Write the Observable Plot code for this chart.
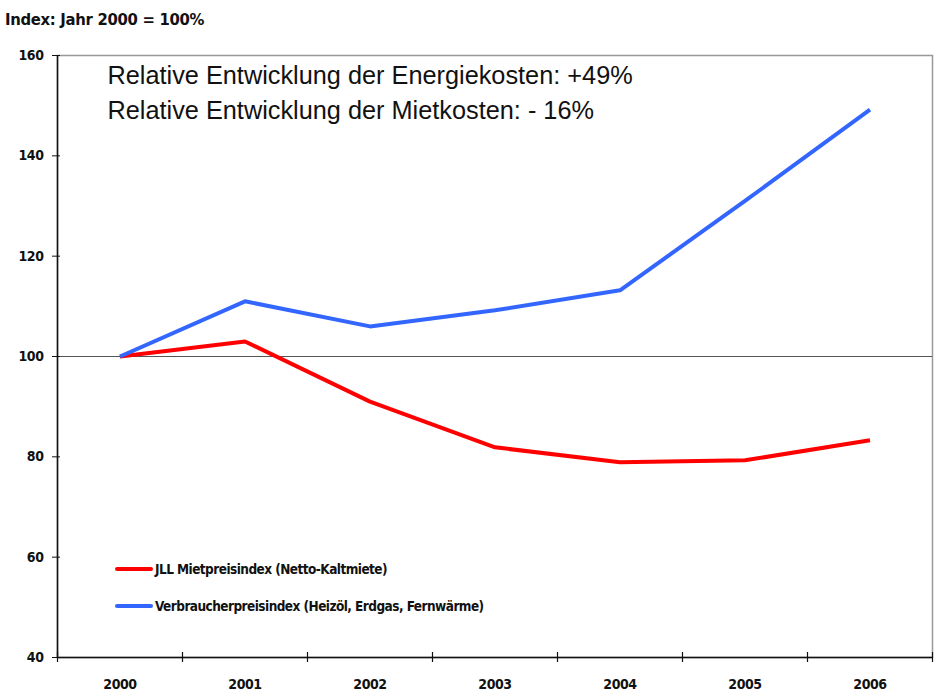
<!DOCTYPE html>
<html>
<head>
<meta charset="utf-8">
<script src="https://cdn.jsdelivr.net/npm/d3@7"></script>
<script src="https://cdn.jsdelivr.net/npm/@observablehq/plot@0.6"></script>
<style>
  html, body { margin: 0; padding: 0; background: #fff; }
  #wrap { position: relative; width: 935px; height: 692px; font-family: "Liberation Sans Narrow", "DejaVu Sans Condensed", sans-serif; color: #111; font-weight: bold; }
  #subtitle { position: absolute; left: 5px; top: 10px; font-size: 16.5px; line-height: 20px; letter-spacing: -0.3px; }
  #chart { position: absolute; left: 0; top: 40px; }
  .leg { position: absolute; left: 115px; font-size: 13.5px; line-height: 16px; height: 16px; display: flex; align-items: center; letter-spacing: -0.55px; }
  .leg .sw { width: 38px; height: 4px; border-radius: 2px; margin-right: 2px; }
</style>
</head>
<body>
<div id="wrap">
  <div id="subtitle">Index: Jahr 2000 = 100%</div>
  <div id="chart"></div>
  <div id="legend"></div>
</div>
<script>
const years = [2000, 2001, 2002, 2003, 2004, 2005, 2006];
const mieteValues = [100, 103, 91, 81.9, 78.9, 79.3, 83.3];
const energieValues = [100, 111, 106, 109.2, 113.2, 131, 149.2];
const yTicks = [40, 60, 80, 100, 120, 140, 160];
const seriesNames = ["JLL Mietpreisindex (Netto-Kaltmiete)", "Verbraucherpreisindex (Heizöl, Erdgas, Fernwärme)"];
const seriesColors = ["#ff0000", "#3366ff"];
const annotationLines = ["Relative Entwicklung der Energiekosten: +49%", "Relative Entwicklung der Mietkosten: - 16%"];

const data = [
  ...years.map((y, i) => ({year: y, value: mieteValues[i], series: seriesNames[0]})),
  ...years.map((y, i) => ({year: y, value: energieValues[i], series: seriesNames[1]}))
];
const boundaries = [...years.map(y => y - 0.5), years[years.length - 1] + 0.5];

const chart = Plot.plot({
  width: 935,
  height: 652,
  marginTop: 15,
  marginLeft: 57,
  marginRight: 3,
  marginBottom: 35,
  style: {fontFamily: '"Liberation Sans Narrow", "DejaVu Sans Condensed", sans-serif', fontSize: "14px", fontWeight: "bold", letterSpacing: "-0.4px", color: "#111", background: "#fff"},
  x: {domain: [boundaries[0], boundaries[boundaries.length - 1]]},
  y: {domain: [40, 160]},
  color: {domain: seriesNames, range: seriesColors},
  marks: [
    Plot.frame({stroke: "#999", strokeWidth: 1.5}),
    Plot.ruleY([100], {stroke: "#555", strokeWidth: 1.2}),
    Plot.ruleY([40], {stroke: "#111", strokeWidth: 1.5}),
    Plot.ruleX([boundaries[0]], {stroke: "#111", strokeWidth: 1.5}),
    Plot.ruleX(boundaries, {y1: 39, y2: 41, stroke: "#111", strokeWidth: 1.2}),
    Plot.axisY({ticks: yTicks, tickSize: 8, dx: 3, tickPadding: 9, tickFormat: d => d, label: null, stroke: "#111"}),
    Plot.axisX({ticks: years, tickSize: 0, tickPadding: 22, tickFormat: d => String(d), label: null}),
    Plot.line(data, {x: "year", y: "value", z: "series", stroke: "series", strokeWidth: 4, strokeLinejoin: "miter", strokeLinecap: "butt"}),
    Plot.text([annotationLines.join("\n")], {frameAnchor: "top-left", textAnchor: "start", lineAnchor: "top", dx: 50, dy: 4, fontSize: 25.3, fontWeight: "normal", lineHeight: 1.38, fontFamily: '"Liberation Sans", Arial, sans-serif', fill: "#111", style: {letterSpacing: "0px"}})
  ]
});
chart.querySelectorAll("text").forEach(t => { if (t.textContent.startsWith("Relative")) t.style.letterSpacing = "0px"; });
chart.querySelectorAll("g[aria-label='text'] text, g[aria-label='text']").forEach(g => { g.style.letterSpacing = "0px"; });
document.getElementById("chart").appendChild(chart);

const legend = document.getElementById("legend");
seriesNames.forEach((name, i) => {
  const row = document.createElement("div");
  row.className = "leg";
  row.style.top = (561 + i * 37) + "px";
  const sw = document.createElement("span");
  sw.className = "sw";
  sw.style.background = seriesColors[i];
  const label = document.createElement("span");
  label.textContent = name;
  row.appendChild(sw);
  row.appendChild(label);
  legend.appendChild(row);
});
</script>
</body>
</html>
